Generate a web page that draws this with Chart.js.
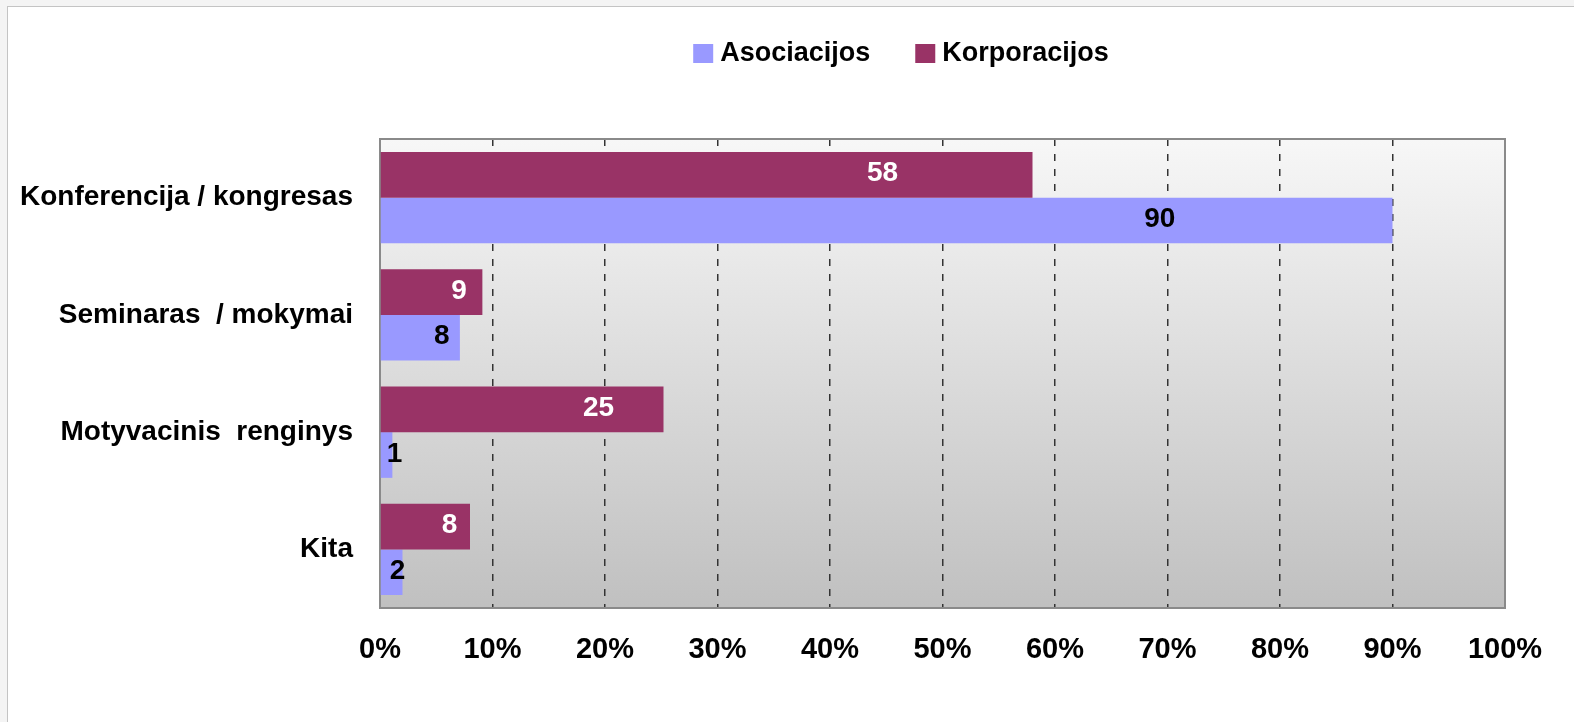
<!DOCTYPE html>
<html>
<head>
<meta charset="utf-8">
<title>Renginių tipai</title>
<script src="https://cdn.jsdelivr.net/npm/chart.js@4.4.1/dist/chart.umd.min.js"></script>
<style>
  html, body { margin: 0; padding: 0; background: #f4f4f4; overflow: hidden; }
  #frame {
    position: absolute; left: 7px; top: 6px;
    width: 1567px; height: 716px;
    background: #fff;
    border-left: 1px solid #c4c4c4;
    border-top: 1px solid #c4c4c4;
  }
  canvas { display: block; }
</style>
</head>
<body>
<div id="frame"><canvas id="chart" width="1566" height="715"></canvas></div>
<script>
// data (bar lengths in %, labels as printed)
const categories = ["Konferencija / kongresas", "Seminaras  / mokymai", "Motyvacinis  renginys", "Kita"];
const asociacijos = [90, 7.1, 1.1, 2];
const korporacijos = [58, 9.1, 25.2, 8];
const asociacijosLabels = ["90", "8", "1", "2"];
const korporacijosLabels = ["58", "9", "25", "8"];
const xMax = 100;
const xStep = 10;

const FONT = '"Liberation Sans", Arial, sans-serif';

/* ---------- plugins ---------- */

// grey gradient behind the plot + frame round it
const plotFrame = {
  id: "plotFrame",
  beforeDraw(chart) {
    const { ctx, chartArea: a } = chart;
    const g = ctx.createLinearGradient(0, a.top, 0, a.bottom);
    g.addColorStop(0, "#f7f7f7");
    g.addColorStop(1, "#c0c0c0");
    ctx.save();
    ctx.fillStyle = g;
    ctx.fillRect(a.left, a.top, a.right - a.left, a.bottom - a.top);
    ctx.restore();
  },
  beforeDatasetsDraw(chart) {
    const { ctx, chartArea: a } = chart;
    ctx.save();
    ctx.strokeStyle = "#8a8a8a";
    ctx.lineWidth = 2;
    ctx.strokeRect(a.left, a.top, a.right - a.left, a.bottom - a.top);
    ctx.restore();
  },
};

// numbers written on the bars
const barValueLabels = {
  id: "barValueLabels",
  afterDatasetsDraw(chart) {
    const ctx = chart.ctx;
    ctx.save();
    ctx.font = "bold 28px " + FONT;
    ctx.textAlign = "center";
    ctx.textBaseline = "middle";
    chart.data.datasets.forEach((ds, di) => {
      const meta = chart.getDatasetMeta(di);
      meta.data.forEach((bar, i) => {
        const text = ds.valueLabels[i];
        const half = ctx.measureText(text).width / 2;
        const x = Math.max(bar.base + (bar.x - bar.base) * 0.77, bar.base + half + 6);
        ctx.fillStyle = ds.labelColor;
        ctx.fillText(text, x, bar.y - 1);
      });
    });
    ctx.restore();
  },
};

// legend on top, a bit right of centre like the original
const topLegend = {
  id: "topLegend",
  afterDraw(chart) {
    const ctx = chart.ctx;
    const items = chart.data.datasets.slice().reverse();
    const box = 20, gap = 7, spacing = 45, centerX = 893, top = 37;
    ctx.save();
    ctx.font = "bold 27px " + FONT;
    const widths = items.map((d) => ctx.measureText(d.label).width);
    const total = widths.reduce((s, w) => s + box + gap + w, 0) + spacing * (items.length - 1);
    let x = centerX - total / 2;
    items.forEach((d, i) => {
      ctx.fillStyle = d.backgroundColor;
      ctx.fillRect(x, top, box, 19);
      ctx.fillStyle = "#000";
      ctx.textBaseline = "alphabetic";
      ctx.fillText(d.label, x + box + gap, top + 17);
      x += box + gap + widths[i] + spacing;
    });
    ctx.restore();
  },
};

/* ---------- chart ---------- */

new Chart(document.getElementById("chart"), {
  type: "bar",
  data: {
    labels: categories,
    datasets: [
      {
        label: "Korporacijos",
        data: korporacijos,
        backgroundColor: "#993366",
        valueLabels: korporacijosLabels,
        labelColor: "#ffffff",
      },
      {
        label: "Asociacijos",
        data: asociacijos,
        backgroundColor: "#9999ff",
        valueLabels: asociacijosLabels,
        labelColor: "#000000",
      },
    ],
  },
  options: {
    indexAxis: "y",
    responsive: false,
    animation: false,
    events: [],
    categoryPercentage: 0.78,
    barPercentage: 1.0,
    layout: { padding: { top: 132, right: 69, bottom: 0, left: 0 } },
    plugins: {
      legend: { display: false },
      tooltip: { enabled: false },
    },
    scales: {
      x: {
        min: 0,
        max: xMax,
        ticks: {
          stepSize: xStep,
          padding: 25,
          color: "#000",
          font: { family: FONT, size: 29, weight: "bold" },
          callback: (v) => v + "%",
        },
        grid: { color: "#333", lineWidth: 1.5, drawTicks: false },
        border: { display: false, dash: [7, 8] },
        afterFit(scale) { scale.height = 114; },
      },
      y: {
        ticks: {
          padding: 27,
          color: "#000",
          font: { family: FONT, size: 28, weight: "bold" },
        },
        grid: { display: false, drawTicks: false },
        border: { display: false },
        afterFit(scale) { scale.width = 372; },
      },
    },
  },
  plugins: [plotFrame, barValueLabels, topLegend],
});
</script>
</body>
</html>
